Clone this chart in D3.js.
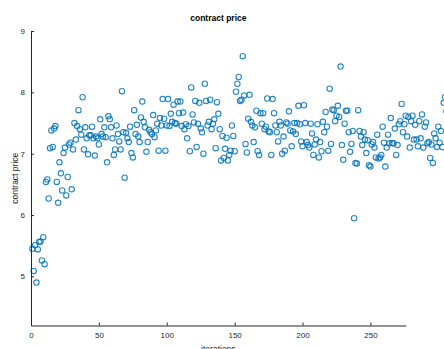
<!DOCTYPE html>
<html>
<head>
<meta charset="utf-8">
<script src="https://cdn.jsdelivr.net/npm/d3@7"></script>
<style>
  body { margin: 0; background: #fff; }
  svg { display: block; font-family: "Liberation Sans", Arial, sans-serif; }
</style>
</head>
<body>
<div id="vis"></div>
<script>
// contract price per iteration (iteration = position + 1)
var early = [5.45, 5.09, 5.51, 4.90, 5.44, 5.56, 5.57, 5.26, 5.64, 5.20,
  6.54, 6.58, 6.27, 7.09, 7.38, 7.11, 7.41, 7.45, 6.54, 6.20,
  6.86, 6.68, 6.40, 7.01, 7.10, 6.32, 6.62, 7.15, 7.18, 6.42,
  7.07, 7.50, 7.23, 7.45, 7.71, 7.40, 7.31, 7.92, 7.07, 7.43,
  7.25, 6.99, 7.30, 7.30, 7.44, 7.25, 6.97, 7.28, 7.25, 7.15,
  7.56, 7.32, 7.28, 7.43, 7.27, 6.86, 7.61, 7.56, 7.43, 7.25,
  6.98, 7.07, 7.46, 7.32, 7.20, 7.07, 8.02, 7.35, 6.61, 7.34,
  7.25, 7.19, 7.44, 7.01, 6.94, 7.71, 7.32, 7.47, 7.28, 7.19,
  7.59, 7.85, 7.52, 7.43, 7.03, 7.19, 7.39, 7.35, 7.32, 7.63,
  7.27, 7.38, 7.49, 7.05, 7.58, 7.46, 7.89];

var middle = [7.57, 7.05, 7.46, 7.89, 7.45, 7.65, 7.52, 7.80, 7.50, 7.49,
  7.85, 7.66, 7.85, 7.45, 7.67, 7.40, 7.48, 7.25, 7.45, 7.04,
  8.08, 7.64, 7.51, 7.86, 7.11, 7.49, 7.83, 7.41, 7.35, 7.00,
  8.14, 7.86, 7.46, 7.52, 7.88, 7.40, 7.49, 7.56, 7.09, 7.84,
  7.65, 7.40, 6.89, 7.29, 6.93, 7.08, 7.26, 6.89, 6.98, 7.05,
  7.46, 7.29, 7.04, 8.01, 8.14, 8.25, 7.86, 7.88, 8.59, 7.95,
  7.16, 7.02, 7.57, 7.96, 7.52, 7.46, 7.19, 7.43, 7.70, 7.04,
  6.98, 7.66, 7.49, 7.66, 7.40, 7.44, 7.90, 7.36, 7.35, 6.98,
  7.89, 7.66, 7.46, 7.35, 7.20, 7.52, 7.46, 7.00, 7.28, 7.05,
  7.51, 7.49, 7.69, 7.38, 7.12, 7.36, 7.50, 7.32, 7.50, 7.78,
  7.48, 7.20, 7.12];

var late = [7.79, 7.50, 7.19, 7.14, 7.10, 7.49, 7.33, 6.98, 7.15, 7.23,
  7.48, 6.94, 7.19, 7.04, 7.52, 7.35, 7.68, 7.44, 7.05, 8.06,
  7.16, 7.72, 7.71, 7.53, 7.62, 7.78, 7.60, 8.42, 7.14, 6.90,
  7.49, 7.70, 7.70, 7.35, 7.03, 7.16, 7.37, 5.95, 6.85, 6.84,
  7.71, 7.37, 7.28, 7.14, 7.35, 7.23, 7.01, 7.22, 6.81, 6.79,
  7.15, 7.19, 7.10, 6.94, 7.31, 6.92, 6.94, 6.98, 7.44, 7.18,
  6.79, 7.10, 7.31, 7.17, 7.58, 7.17, 7.17, 7.41, 6.98, 7.14,
  7.48, 7.53, 7.81, 7.35, 7.48, 7.62, 7.28, 7.60, 7.10, 7.53,
  7.62, 7.23, 7.47, 7.23, 7.12, 7.53, 7.25, 7.64, 7.10, 7.44,
  7.51, 7.17, 7.19, 6.93, 7.15, 6.85, 7.33, 7.25, 7.11, 7.44,
  7.18, 7.37, 7.11, 7.83, 7.92, 7.69, 7.45];

var xTicks = [0, 50, 100, 150, 200, 250],
    yTicks = [5, 6, 7, 8, 9];

var prices = early.concat(middle, late);
var data = prices.map(function(v, i) { return {it: i + 1, price: v}; });

var w = 444, h = 349,
    padL = 31, padR = 405.7, padT = 31, padB = 325.5,
    ink = "#262626", blue = "#0072BD";

var x = d3.scaleLinear().domain([0, 276]).range([padL, padR]),
    y = d3.scaleLinear().domain([4.2, 9]).range([padB, padT]);

var svg = d3.select("#vis").append("svg")
    .attr("width", w)
    .attr("height", h);

// points first, axes drawn over them
svg.append("g").selectAll("circle")
    .data(data)
  .enter().append("circle")
    .attr("cx", function(d) { return x(d.it); })
    .attr("cy", function(d) { return y(d.price); })
    .attr("r", 2.7)
    .attr("fill", "none")
    .attr("stroke", blue)
    .attr("stroke-opacity", 0.85)
    .attr("stroke-width", 1.1);

// matlab style: ticks point inward
var xAxis = svg.append("g")
    .attr("transform", "translate(0," + padB + ")")
    .call(d3.axisBottom(x).tickValues(xTicks).tickFormat(d3.format("d"))
      .tickSizeInner(-3).tickSizeOuter(0).tickPadding(7));

var yAxis = svg.append("g")
    .attr("transform", "translate(" + padL + ",0)")
    .call(d3.axisLeft(y).tickValues(yTicks).tickFormat(d3.format("d"))
      .tickSizeInner(-3).tickSizeOuter(0).tickPadding(6));

[xAxis, yAxis].forEach(function(g) {
  g.select(".domain").attr("stroke", ink).attr("stroke-width", 1);
  g.selectAll(".tick line").attr("stroke", ink);
  g.selectAll(".tick text")
      .attr("fill", ink)
      .style("font-size", "8px")
      .style("font-family", "Liberation Sans, Arial, sans-serif");
});

svg.append("text")
    .attr("x", (padL + padR) / 2)
    .attr("y", 21)
    .attr("text-anchor", "middle")
    .attr("fill", "#000")
    .style("font-size", "8.5px")
    .style("font-weight", "bold")
    .text("contract price");

svg.append("text")
    .attr("transform", "translate(18," + ((padT + padB) / 2) + ") rotate(-90)")
    .attr("text-anchor", "middle")
    .attr("fill", ink)
    .style("font-size", "8.5px")
    .text("contract price");

svg.append("text")
    .attr("x", (padL + padR) / 2)
    .attr("y", 352)
    .attr("text-anchor", "middle")
    .attr("fill", ink)
    .style("font-size", "8.5px")
    .text("iterations");
</script>
</body>
</html>
